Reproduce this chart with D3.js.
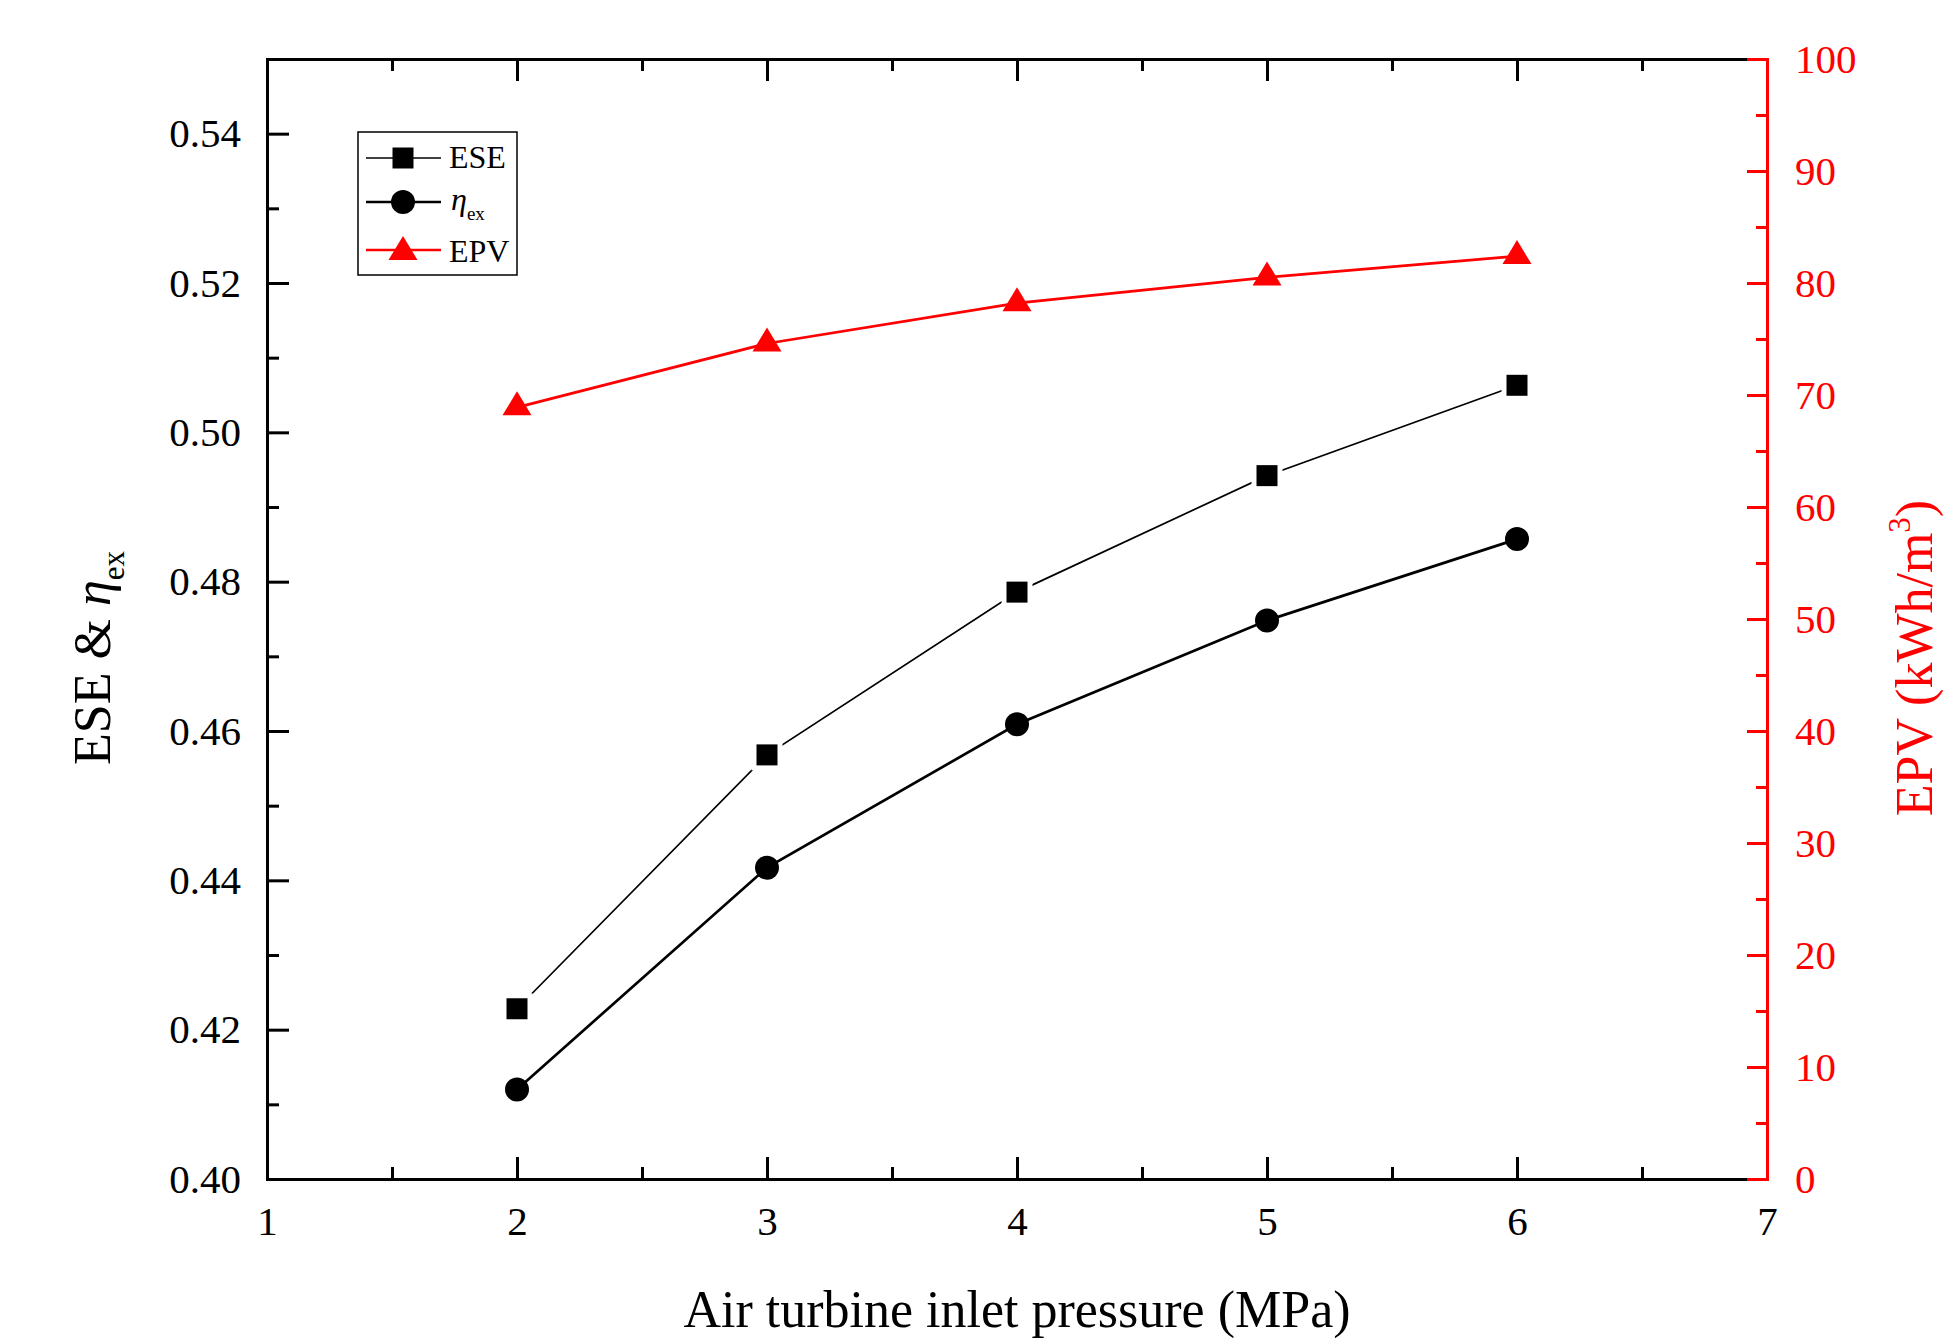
<!DOCTYPE html>
<html>
<head>
<meta charset="utf-8">
<script src="https://cdn.jsdelivr.net/npm/d3@7"></script>
<style>
  body { margin: 0; background: #fff; }
  svg { display: block; font-family: "Liberation Serif", "Times New Roman", serif; }
</style>
</head>
<body>
<div id="chart"></div>
<script>
// Data
const pressure = [2, 3, 4, 5, 6];
const ese = [0.4228, 0.4568, 0.4786, 0.4942, 0.5063];
const etaEx = [0.4120, 0.4417, 0.4609, 0.4748, 0.4857];
const epv = [68.9, 74.6, 78.2, 80.5, 82.4];

const xTicks = [1, 2, 3, 4, 5, 6, 7];
const yLeftTicks = [0.40, 0.42, 0.44, 0.46, 0.48, 0.50, 0.52, 0.54];
const yRightTicks = [0, 10, 20, 30, 40, 50, 60, 70, 80, 90, 100];

// Set dimensions and margins
const W = 1948, H = 1338;
const margin = { top: 59, right: 181, bottom: 159, left: 267 };
const width = W - margin.left - margin.right;
const height = H - margin.top - margin.bottom;

const RED = "#ff0000";
const fontSize = 41;

// Scales
const x = d3.scaleLinear().domain([1, 7]).range([0, width]);
const y = d3.scaleLinear().domain([0.40, 0.55]).range([height, 0]);
const y2 = d3.scaleLinear().domain([0, 100]).range([height, 0]);

const svg = d3.select("#chart")
  .append("svg")
  .attr("width", W)
  .attr("height", H);

svg.append("rect").attr("width", W).attr("height", H).attr("fill", "#fff");

const g = svg.append("g")
  .attr("transform", `translate(${margin.left}, ${margin.top})`);

// minor tick values
const xMinor = d3.range(1.5, 7, 1);
const yMinor = d3.range(0.41, 0.55, 0.02);
const y2Minor = d3.range(5, 100, 10);

function styleAxis(sel, color) {
  sel.select(".domain").attr("stroke", color).attr("stroke-width", 3).attr("stroke-linecap", "square");
  sel.selectAll(".tick line").attr("stroke", color).attr("stroke-width", 3);
  sel.selectAll(".tick text")
    .attr("fill", color)
    .style("font-size", fontSize + "px")
    .style("font-family", "'Liberation Serif', 'Times New Roman', serif");
}

// bottom axis
const xAxisG = g.append("g")
  .attr("transform", `translate(0, ${height})`)
  .call(d3.axisBottom(x).tickValues(xTicks).tickSize(-22).tickSizeOuter(0).tickFormat(d3.format("d")));
styleAxis(xAxisG, "#000");
xAxisG.selectAll(".tick text").attr("y", 56).attr("dy", 0);
g.append("g")
  .attr("transform", `translate(0, ${height})`)
  .call(d3.axisBottom(x).tickValues(xMinor).tickSize(-12).tickSizeOuter(0).tickFormat(""))
  .call(s => { styleAxis(s, "#000"); s.select(".domain").remove(); });

// top axis
const topG = g.append("g")
  .call(d3.axisTop(x).tickValues(xTicks).tickSize(-22).tickSizeOuter(0).tickFormat(""));
styleAxis(topG, "#000");
g.append("g")
  .call(d3.axisTop(x).tickValues(xMinor).tickSize(-12).tickSizeOuter(0).tickFormat(""))
  .call(s => { styleAxis(s, "#000"); s.select(".domain").remove(); });

// left axis
const yAxisG = g.append("g")
  .call(d3.axisLeft(y).tickValues(yLeftTicks).tickSize(-22).tickSizeOuter(0).tickFormat(d3.format(".2f")));
styleAxis(yAxisG, "#000");
yAxisG.selectAll(".tick text").attr("x", -26).attr("dy", "0.32em");
g.append("g")
  .call(d3.axisLeft(y).tickValues(yMinor).tickSize(-12).tickSizeOuter(0).tickFormat(""))
  .call(s => { styleAxis(s, "#000"); s.select(".domain").remove(); });

// right axis (red)
const y2AxisG = g.append("g")
  .attr("transform", `translate(${width}, 0)`)
  .call(d3.axisRight(y2).tickValues(yRightTicks).tickSize(-20).tickSizeOuter(0).tickFormat(d3.format("d")));
styleAxis(y2AxisG, RED);
y2AxisG.selectAll(".tick text").attr("x", 28).attr("dy", "0.32em").attr("text-anchor", "start");
g.append("g")
  .attr("transform", `translate(${width}, 0)`)
  .call(d3.axisRight(y2).tickValues(y2Minor).tickSize(-11).tickSizeOuter(0).tickFormat(""))
  .call(s => { styleAxis(s, RED); s.select(".domain").remove(); });

// markers
const square = d3.symbol().type(d3.symbolSquare).size(21 * 21);
const squareHalo = d3.symbol().type(d3.symbolSquare).size(31 * 31);
const triPath = "M0,-16L14.5,8L-14.5,8Z";

// ESE series
const eseData = pressure.map((p, i) => ({ p, v: ese[i] }));
const etaData = pressure.map((p, i) => ({ p, v: etaEx[i] }));
const epvData = pressure.map((p, i) => ({ p, v: epv[i] }));

g.append("path")
  .datum(eseData)
  .attr("fill", "none")
  .attr("stroke", "#000")
  .attr("stroke-width", 1.7)
  .attr("d", d3.line().x(d => x(d.p)).y(d => y(d.v)));
g.selectAll(".ese-halo")
  .data(eseData)
  .join("path")
  .attr("transform", d => `translate(${x(d.p)}, ${y(d.v)})`)
  .attr("d", squareHalo)
  .attr("fill", "#fff");
g.selectAll(".ese-pt")
  .data(eseData)
  .join("path")
  .attr("class", "ese-pt")
  .attr("transform", d => `translate(${x(d.p)}, ${y(d.v)})`)
  .attr("d", square)
  .attr("fill", "#000");

// eta series
g.append("path")
  .datum(etaData)
  .attr("fill", "none")
  .attr("stroke", "#000")
  .attr("stroke-width", 2.7)
  .attr("d", d3.line().x(d => x(d.p)).y(d => y(d.v)));
g.selectAll(".eta-pt")
  .data(etaData)
  .join("circle")
  .attr("class", "eta-pt")
  .attr("cx", d => x(d.p))
  .attr("cy", d => y(d.v))
  .attr("r", 12)
  .attr("fill", "#000");

// EPV series
g.append("path")
  .datum(epvData)
  .attr("fill", "none")
  .attr("stroke", RED)
  .attr("stroke-width", 2.7)
  .attr("d", d3.line().x(d => x(d.p)).y(d => y2(d.v)));
g.selectAll(".epv-pt")
  .data(epvData)
  .join("path")
  .attr("class", "epv-pt")
  .attr("transform", d => `translate(${x(d.p)}, ${y2(d.v)})`)
  .attr("d", triPath)
  .attr("fill", RED);

// legend
const leg = svg.append("g").attr("transform", "translate(358, 132)");
leg.append("rect")
  .attr("width", 159).attr("height", 143)
  .attr("fill", "#fff").attr("stroke", "#000").attr("stroke-width", 1.5);

const legRows = [
  { y: 26, color: "#000", sw: 1.7 },
  { y: 70, color: "#000", sw: 2.7 },
  { y: 118, color: RED, sw: 2.7 }
];
legRows.forEach(r => {
  leg.append("line")
    .attr("x1", 8).attr("x2", 83).attr("y1", r.y).attr("y2", r.y)
    .attr("stroke", r.color).attr("stroke-width", r.sw);
});
leg.append("path").attr("transform", `translate(45, ${legRows[0].y})`).attr("d", square).attr("fill", "#000");
leg.append("circle").attr("cx", 45).attr("cy", legRows[1].y).attr("r", 12).attr("fill", "#000");
leg.append("path").attr("transform", `translate(45, ${legRows[2].y + 2})`).attr("d", triPath).attr("fill", RED);

leg.append("text").attr("x", 91).attr("y", 36).style("font-size", "32px").text("ESE");
const etaT = leg.append("text").attr("x", 93).attr("y", 78).style("font-size", "32px");
etaT.append("tspan").style("font-style", "italic").text("η");
etaT.append("tspan").attr("dy", 10).style("font-size", "19px").text("ex");
leg.append("text").attr("x", 91).attr("y", 130).style("font-size", "32px").text("EPV");

// axis titles
svg.append("text")
  .attr("x", margin.left + width / 2)
  .attr("y", 1327)
  .attr("text-anchor", "middle")
  .style("font-size", "52px")
  .text("Air turbine inlet pressure (MPa)");

const yTitle = svg.append("text")
  .attr("transform", "translate(110, 658) rotate(-90)")
  .attr("text-anchor", "middle")
  .style("font-size", "52px");
yTitle.append("tspan").text("ESE & ");
yTitle.append("tspan").style("font-style", "italic").text("η");
yTitle.append("tspan").attr("dy", 14).style("font-size", "31px").text("ex");

const y2Title = svg.append("text")
  .attr("transform", "translate(1932, 658) rotate(-90)")
  .attr("text-anchor", "middle")
  .attr("fill", RED)
  .style("font-size", "52px");
y2Title.append("tspan").text("EPV (kWh/m");
y2Title.append("tspan").attr("dy", -22).style("font-size", "31px").text("3");
y2Title.append("tspan").attr("dy", 22).text(")");
</script>
</body>
</html>
